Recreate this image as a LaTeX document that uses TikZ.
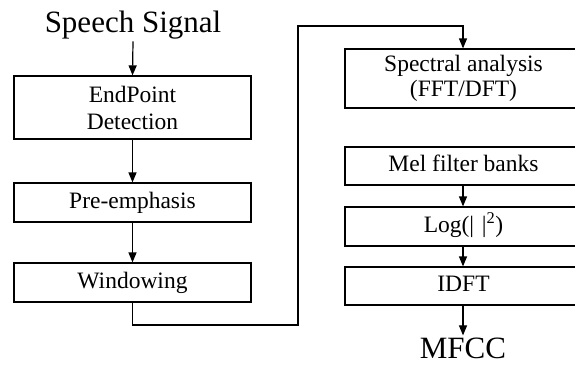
\documentclass[tikz,border=0pt]{standalone}
\usepackage{fontspec}
\setmainfont{Liberation Serif}
\usetikzlibrary{arrows.meta}
\newcommand\rtext[1]{\begin{tabular}{@{}c@{}}#1\end{tabular}\kern40pt}
\begin{document}
\begin{tikzpicture}[x=1pt,y=-1pt,
  box/.style={draw, line width=1.2pt, minimum width=237pt, inner sep=0pt, align=center,
    font=\fontsize{23.5}{27}\selectfont},
  rbox/.style={box, minimum width=277pt},
  big/.style={inner sep=2pt, font=\fontsize{31}{36}\selectfont},
  conn/.style={line width=1.2pt},
  arr/.style={conn, -{Triangle[length=10pt,width=8pt]}}]
\useasboundingbox (0,0) rectangle (575,365);
\clip (0,0) rectangle (575,365);
\fill[white] (0,0) rectangle (575,365);
\node[big] (speech) at (133,25) {Speech Signal};
\node[box, minimum height=63pt] (ep) at (132.5,107.5) {EndPoint\\Detection};
\node[box, minimum height=39pt] (pre) at (132.5,202.5) {Pre-emphasis};
\node[box, minimum height=39pt] (win) at (132.5,282.5) {Windowing};
\node[rbox, minimum height=59pt] (spec) at (483.5,78.5) {\rtext{Spectral analysis\\[-2pt](FFT/DFT)}};
\node[rbox, minimum height=38pt] (mel) at (483.5,166) {\rtext{Mel filter banks}};
\node[rbox, minimum height=39pt] (log) at (483.5,226.5) {\rtext{Log(|\,\,|\textsuperscript{2})}};
\node[rbox, minimum height=38pt] (idft) at (483.5,286) {\rtext{IDFT}};
\node[big] (mfcc) at (463,348) {MFCC};
\coordinate (c1) at (298,325);
\coordinate (c2) at (298,26);
\coordinate (t1) at (463,49);
\coordinate (t2) at (463,207);
\coordinate (t3) at (463,267);
\draw[arr] (speech.south) -- (ep.north);
\draw[arr] (ep.south) -- (pre.north);
\draw[arr] (pre.south) -- (win.north);
\draw[arr] (win.south) |- (c1) -- (c2) -| (spec.north -| t1);
\draw[arr] (mel.south -| t2) -- (log.north -| t2);
\draw[arr] (log.south -| t3) -- (idft.north -| t3);
\draw[arr] (idft.south -| t3) -- (mfcc.north);
\end{tikzpicture}
\end{document}
